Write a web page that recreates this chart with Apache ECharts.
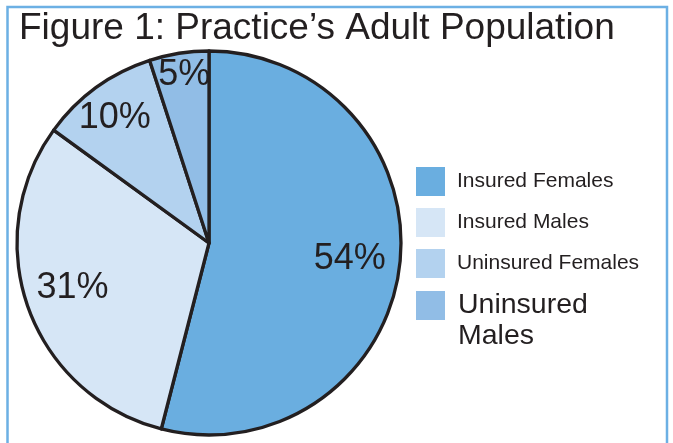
<!DOCTYPE html>
<html>
<head>
<meta charset="utf-8">
<script src="https://cdn.jsdelivr.net/npm/echarts@6/dist/echarts.min.js"></script>
<style>
html,body{margin:0;padding:0;background:#fff;}
#c{width:673px;height:443px;}
</style>
</head>
<body>
<div id="c"></div>
<script>
const titleText = 'Figure 1: Practice\u2019s Adult Population';
const categories = ['Insured Females', 'Insured Males', 'Uninsured Females', 'Uninsured Males'];
const values = [54, 31, 10, 5];
const colors = ['#6aaee0', '#d6e6f6', '#b3d2ef', '#91bde6'];
const legendLabels = ['Insured Females', 'Insured Males', 'Uninsured Females', '\nUninsured\nMales'];

const FONT = '"Liberation Sans", Arial, Helvetica, sans-serif';
const INK = '#231f20';

const pieData = categories.map((name, i) => ({
  name: name,
  value: values[i],
  itemStyle: { color: colors[i] }
}));
const labelData = categories.map((name, i) => ({ name: name, value: values[i] }));

const legendItems = categories.map((name, i) => ({
  name: name, itemStyle: { color: colors[i], borderWidth: 0 }
}));

const legendBase = {
  orient: 'vertical',
  left: 416,
  padding: 0,
  itemWidth: 29,
  itemHeight: 29,
  itemGap: 12,
  icon: 'rect',
  selectedMode: false,
  itemStyle: { borderWidth: 0 },
  formatter: function (name) {
    return legendLabels[categories.indexOf(name)];
  }
};

const chart = echarts.init(document.getElementById('c'), null, { renderer: 'canvas' });
chart.setOption({
  animation: false,
  backgroundColor: '#ffffff',
  title: {
    text: titleText,
    left: 14,
    top: 5,
    textStyle: { fontFamily: FONT, fontSize: 37, fontWeight: 'normal', color: INK }
  },
  graphic: [{
    type: 'rect',
    shape: { x: 7.5, y: 7, width: 659.5, height: 500 },
    style: { fill: null, stroke: '#6cb0e4', lineWidth: 2.5 },
    silent: true,
    z: 0
  }],
  legend: [
    Object.assign({}, legendBase, {
      top: 167,
      data: legendItems.slice(0, 3),
      textStyle: { fontFamily: FONT, fontSize: 21, color: INK, padding: [0, 0, 0, 7] }
    }),
    Object.assign({}, legendBase, {
      top: 255,
      data: legendItems.slice(3),
      textStyle: { fontFamily: FONT, fontSize: 28.5, lineHeight: 31, color: INK, padding: [8, 0, 0, 8] }
    })
  ],
  series: [
    {
      type: 'pie',
      center: [209, 243],
      radius: [0, 192],
      startAngle: 90,
      clockwise: true,
      data: pieData,
      label: { show: false },
      labelLine: { show: false },
      itemStyle: { borderColor: INK, borderWidth: 3.3 },
      emphasis: { disabled: true },
      silent: true,
      z: 2
    },
    {
      type: 'pie',
      center: [209, 243],
      radius: [0, 284],
      startAngle: 90,
      clockwise: true,
      data: labelData,
      itemStyle: { color: 'rgba(0,0,0,0)', borderWidth: 0 },
      label: {
        show: true,
        position: 'inside',
        formatter: '{c}%',
        fontFamily: FONT,
        fontSize: 36,
        color: INK
      },
      labelLayout: function (p) {
        if (p.dataIndex === 0) return { dx: -3, dy: -2 };
        if (p.dataIndex === 1) return { dy: -4 };
        if (p.dataIndex === 2) return { dx: -9, dy: -8 };
        if (p.dataIndex === 3) return { dx: -2, dy: -25 };
        return {};
      },
      labelLine: { show: false },
      emphasis: { disabled: true },
      silent: true,
      z: 3
    }
  ]
});
</script>
</body>
</html>
